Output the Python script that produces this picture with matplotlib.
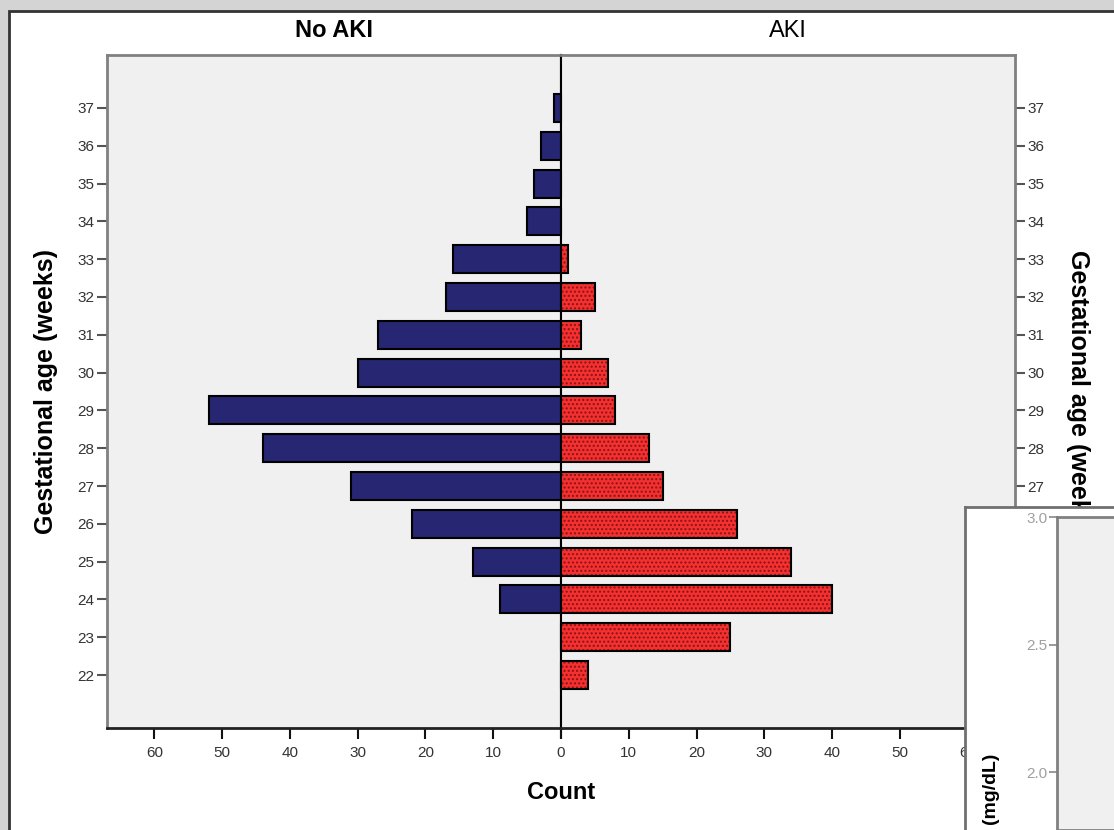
import numpy as np
import matplotlib
matplotlib.use("Agg")
import matplotlib.pyplot as plt
from matplotlib.patches import Rectangle

plt.rcParams['font.family'] = ['Liberation Sans', 'DejaVu Sans']

# gestational age (weeks) and counts per group
weeks = [37, 36, 35, 34, 33, 32, 31, 30, 29, 28, 27, 26, 25, 24, 23, 22]
no_aki = [1, 3, 4, 5, 16, 17, 27, 30, 52, 44, 31, 22, 13, 9, 0, 0]
aki = [0, 0, 0, 0, 1, 5, 3, 7, 8, 13, 15, 26, 34, 40, 25, 4]
count_ticks = [0, 10, 20, 30, 40, 50, 60]
creat_ticks = [2.0, 2.5, 3.0]

W, H = 1114, 830
fig = plt.figure(figsize=(W / 100, H / 100), dpi=100)
fig.patch.set_facecolor('#d4d4d4')


def fx(px):
    return px / W


def fy(py):
    return 1 - py / H


# white chart frame
fig.patches.append(Rectangle((fx(9), -0.05), 1.1, fy(11) + 0.05,
                             transform=fig.transFigure, facecolor='white',
                             edgecolor='#333333', linewidth=2, zorder=-10))

top, bot = 55, 728
axL = fig.add_axes([fx(107), fy(bot), fx(561 - 107), fy(top) - fy(bot)])
axR = fig.add_axes([fx(561), fy(bot), fx(1015 - 561), fy(top) - fy(bot)])

navy = '#262673'
red = '#f43030'
for ax in (axL, axR):
    ax.set_facecolor('#f0f0f0')
    ax.set_ylim(20.6, 38.4)
    ax.set_yticks(weeks)
    ax.set_xticks(count_ticks)
    for s in ax.spines.values():
        s.set_color('#808080')
        s.set_linewidth(2)
    ax.spines['bottom'].set_color('#222222')
    ax.tick_params(axis='x', direction='out', length=8, width=1.5, color='#111111',
                   labelsize=11, labelcolor='#333333', pad=5)
    ax.tick_params(axis='y', direction='out', length=7, width=1.5, color='#555555',
                   labelsize=11, labelcolor='#333333', pad=2)

axL.set_xlim(67, 0)
axR.set_xlim(0, 67)
axL.spines['right'].set_color('black')
axL.spines['right'].set_linewidth(1.5)
axR.spines['left'].set_color('black')
axR.spines['left'].set_linewidth(1.5)
axR.yaxis.tick_right()
# the shared zero is labelled once
axL.get_xticklabels()[0].set_visible(False)
# right-hand labels below 27 sit under the neighbouring chart
for wk, lab in zip(weeks, axR.get_yticklabels()):
    if wk < 27:
        lab.set_visible(False)

bh = 0.74
axL.barh(weeks, no_aki, height=bh, color=navy, edgecolor='black', linewidth=1.5, zorder=3)
axR.barh(weeks, aki, height=bh, color=red, edgecolor='#8a1414', hatch='....',
         linewidth=0, zorder=3)
axR.barh(weeks, aki, height=bh, color='none', edgecolor='black', linewidth=1.5, zorder=4)

axL.set_title('No AKI', fontsize=17, fontweight='bold', pad=13)
axR.set_title('AKI', fontsize=17, pad=13)

fig.text(fx(561), fy(792), 'Count', fontsize=17, fontweight='bold',
         ha='center', va='center')
fig.text(fx(46), fy(392), 'Gestational age (weeks)', fontsize=18, fontweight='bold',
         rotation=90, ha='center', va='center')
fig.text(fx(1078), fy(392), 'Gestational age (weeks)', fontsize=18, fontweight='bold',
         rotation=270, ha='center', va='center')

# neighbouring chart overlapping the corner
axO = fig.add_axes([fx(965), -0.05, 0.2, fy(507) + 0.05])
axO.set_zorder(5)
axO.set_facecolor('white')
axO.set_xticks([])
axO.set_yticks([])
for s in axO.spines.values():
    s.set_color('#707070')
    s.set_linewidth(2)

axI = fig.add_axes([fx(1057), 0, 0.2, fy(517)])
axI.set_zorder(6)
axI.set_facecolor('#f0f0f0')
axI.set_ylim(2.0 - (830 - 772) / 255, 3.0)
axI.set_yticks(creat_ticks)
axI.set_yticklabels(['%.1f' % v for v in creat_ticks])
axI.set_xticks([])
for s in axI.spines.values():
    s.set_color('#808080')
    s.set_linewidth(2)
axI.tick_params(axis='y', direction='out', length=6, width=1.2, color='#888888',
                labelsize=11, labelcolor='#a0a0a0', pad=1)
fig.text(fx(990), fy(753), '(mg/dL)', fontsize=14, fontweight='bold',
         rotation=90, ha='center', va='top', zorder=10)

fig.savefig('out.png', dpi=100, facecolor=fig.get_facecolor())
